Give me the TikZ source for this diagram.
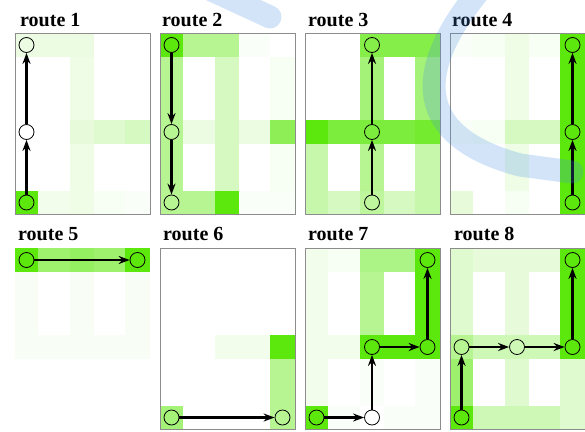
\documentclass[tikz,border=0pt]{standalone}
\usepackage{fontspec}
\setmainfont{Liberation Serif}
\usetikzlibrary{arrows.meta}
\definecolor{rg}{RGB}{92,232,12}
\definecolor{wmblue}{RGB}{66,140,230}
\newcommand\colL[1]{\ifcase#1 0\or 23\or 55\or 79\or 110\fi}
\newcommand\colR[1]{\ifcase#1 23\or 55\or 79\or 110\or 135\fi}
\newcommand\rowT[1]{\ifcase#1 0\or 24\or 87\or 111\or 158\fi}
\newcommand\rowB[1]{\ifcase#1 24\or 87\or 111\or 158\or 181\fi}
\newcommand\gcell[3]{\edef\gtmp{\noexpand\fill[rg!#3!white] (\colL{#1},\rowT{#2}) rectangle (\colR{#1},\rowB{#2});}\gtmp}
\newcommand\cells[1]{\foreach \gcc/\grr/\gpp in {#1} {\gcell{\gcc}{\grr}{\gpp}}}
\tikzset{
  rn/.style={circle, draw=black, line width=0.8pt, minimum size=15pt, inner sep=0pt},
  arr/.style={-{Stealth[length=11pt,width=8pt]}, line width=2.1pt},
  ttl/.style={anchor=base west, inner sep=0pt, font=\bfseries\fontsize{20}{24}\selectfont},
  fr/.style={draw=black!45, line width=0.7pt},
  wm/.style={draw=wmblue, draw opacity=0.23, line width=23pt, line cap=round}
}
\begin{document}
\begin{tikzpicture}[x=1pt, y=-1pt]
\useasboundingbox (0,0) rectangle (585,431);
% titles
\node[ttl] (t1) at (20,26) {route 1};
\node[ttl] (t2) at (162,26) {route 2};
\node[ttl] (t3) at (308,26) {route 3};
\node[ttl] (t4) at (452,26) {route 4};
\node[ttl] (t5) at (18,240) {route 5};
\node[ttl] (t6) at (163,240) {route 6};
\node[ttl] (t7) at (308,240) {route 7};
\node[ttl] (t8) at (454,240) {route 8};
% ---------- route 1
\begin{scope}[shift={(15,33)}]
\cells{0/0/12,1/0/12,2/0/12,2/1/10,2/2/15,2/3/10,2/4/10,3/2/20,4/2/25,0/4/100,1/4/8,3/4/5,4/4/3}
\draw[fr] (0,0) rectangle (135,181);
\node[rn] (a1) at (11.5,12) {};
\node[rn] (a2) at (11.5,99) {};
\node[rn] (a3) at (11.5,169.5) {};
\draw[arr] (a3) -- (a2);
\draw[arr] (a2) -- (a1);
\end{scope}
% ---------- route 2
\begin{scope}[shift={(160,33)}]
\cells{0/0/100,1/0/45,2/0/45,3/0/3,0/1/45,0/2/45,0/3/45,0/4/45,2/1/25,2/2/25,2/3/25,2/4/100,1/2/12,3/2/12,4/2/70,1/4/45,3/4/3,4/4/3,4/1/5,4/3/5}
\draw[fr] (0,0) rectangle (135,181);
\node[rn] (b1) at (11.5,12) {};
\node[rn] (b2) at (11.5,99) {};
\node[rn] (b3) at (11.5,169.5) {};
\draw[arr] (b1) -- (b2);
\draw[arr] (b2) -- (b3);
\end{scope}
% ---------- route 3
\begin{scope}[shift={(305,33)}]
\cells{2/0/75,3/0/75,4/0/75,2/1/55,4/1/55,0/2/100,1/2/80,2/2/80,3/2/80,4/2/85,0/3/35,2/3/45,4/3/35,0/4/35,1/4/25,2/4/40,3/4/25,4/4/35}
\draw[fr] (0,0) rectangle (135,181);
\node[rn] (c1) at (67,12) {};
\node[rn] (c2) at (67,99) {};
\node[rn] (c3) at (67,169.5) {};
\draw[arr] (c3) -- (c2);
\draw[arr] (c2) -- (c1);
\end{scope}
% ---------- route 4
\begin{scope}[shift={(450,33)}]
\cells{4/0/100,4/1/100,4/2/100,4/3/100,4/4/100,2/0/10,2/1/10,2/2/25,2/3/10,2/4/5,3/2/25,1/2/5,0/2/3,0/0/3,1/0/5,3/0/5,0/4/15}
\draw[fr] (0,0) rectangle (135,181);
\node[rn] (d1) at (122.5,12) {};
\node[rn] (d2) at (122.5,99) {};
\node[rn] (d3) at (122.5,169.5) {};
\draw[arr] (d3) -- (d2);
\draw[arr] (d2) -- (d1);
\end{scope}
% ---------- route 5
\begin{scope}[shift={(15,248)}]
\cells{0/0/100,1/0/60,2/0/65,3/0/60,4/0/100,0/1/4,2/1/4,4/1/4,0/2/4,1/2/4,2/2/4,3/2/4,4/2/4}
\node[rn] (e1) at (11.5,12) {};
\node[rn] (e2) at (122.5,12) {};
\draw[arr] (e1) -- (e2);
\end{scope}
% ---------- route 6
\begin{scope}[shift={(160,248)}]
\cells{0/4/55,4/2/100,4/3/45,4/4/45,2/2/8,3/2/8}
\draw[fr] (0,0) rectangle (135,181);
\node[rn] (f1) at (11.5,169.5) {};
\node[rn] (f2) at (122.5,169.5) {};
\draw[arr] (f1) -- (f2);
\end{scope}
% ---------- route 7
\begin{scope}[shift={(305,248)}]
\cells{0/0/8,0/1/8,0/2/8,0/3/8,0/4/100,1/0/5,2/0/50,3/0/50,4/0/100,2/1/45,4/1/100,1/2/8,2/2/100,3/2/100,4/2/100,2/3/3,4/3/3,1/4/3,3/4/3,4/4/3}
\draw[fr] (0,0) rectangle (135,181);
\node[rn] (g1) at (11.5,169.5) {};
\node[rn] (g2) at (67,169.5) {};
\node[rn] (g3) at (67,99) {};
\node[rn] (g4) at (122.5,99) {};
\node[rn] (g5) at (122.5,12) {};
\draw[arr] (g1) -- (g2);
\draw[arr] (g2) -- (g3);
\draw[arr] (g3) -- (g4);
\draw[arr] (g4) -- (g5);
\end{scope}
% ---------- route 8
\begin{scope}[shift={(450,248)}]
\cells{0/0/20,0/1/20,0/2/45,0/3/60,0/4/100,1/0/15,2/0/15,3/0/15,2/1/15,2/2/30,2/3/20,2/4/30,1/2/30,3/2/30,4/2/100,4/0/100,4/1/100,4/3/20,4/4/20,1/4/30,3/4/30}
\draw[fr] (0,0) rectangle (135,181);
\node[rn] (h1) at (11.5,169.5) {};
\node[rn] (h2) at (11.5,99) {};
\node[rn] (h3) at (67,99) {};
\node[rn] (h4) at (122.5,99) {};
\node[rn] (h5) at (122.5,12) {};
\draw[arr] (h1) -- (h2);
\draw[arr] (h2) -- (h3);
\draw[arr] (h3) -- (h4);
\draw[arr] (h4) -- (h5);
\end{scope}
% watermark
\draw[wm] (190,-20) -- (270,17);
\draw[wm] (480,-10) .. controls (412,72) and (415,137) .. (520,165) -- (572,172);
\end{tikzpicture}
\end{document}
